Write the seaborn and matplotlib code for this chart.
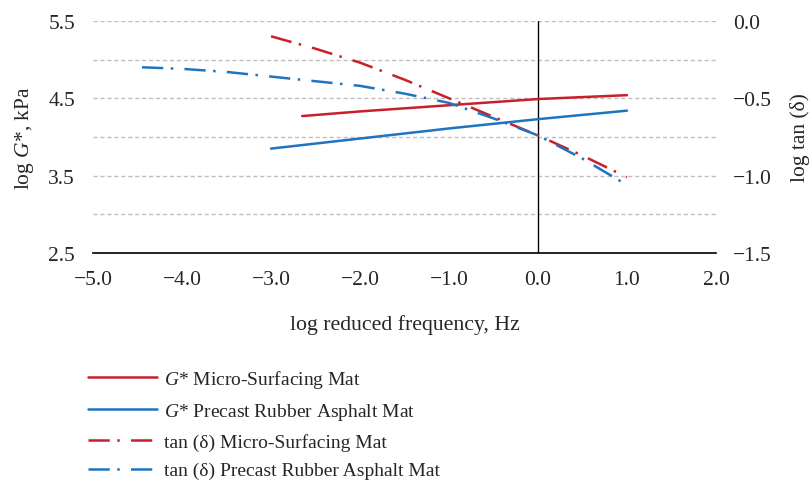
import matplotlib
matplotlib.use("Agg")
import matplotlib.pyplot as plt
import seaborn as sns
import pandas as pd

# data
g_micro_x = [-2.65, -2.0, -1.0, 0.0, 1.0]
g_micro_y = [4.27, 4.33, 4.41, 4.49, 4.54]
g_prec_x = [-3.0, -2.0, -1.0, 0.0, 1.0]
g_prec_y = [3.85, 3.98, 4.11, 4.23, 4.34]
t_micro_x = [-3.0, -2.5, -2.0, -1.5, -1.0, -0.5, 0.0, 0.5, 1.0]
t_micro_y = [-0.10, -0.18, -0.27, -0.38, -0.50, -0.62, -0.74, -0.87, -1.01]
t_prec_x = [-4.45, -4.0, -3.5, -3.0, -2.5, -2.0, -1.5, -1.0, -0.5, 0.0, 0.5, 1.0]
t_prec_y = [-0.30, -0.31, -0.33, -0.36, -0.39, -0.42, -0.47, -0.53, -0.63, -0.74, -0.89, -1.06]
x_ticks = [-5.0, -4.0, -3.0, -2.0, -1.0, 0.0, 1.0, 2.0]
yl_ticks = [2.5, 3.5, 4.5, 5.5]
yr_ticks = [-1.5, -1.0, -0.5, 0.0]
labels = ["$G$* Micro-Surfacing Mat", "$G$* Precast Rubber Asphalt Mat",
          "tan (δ) Micro-Surfacing Mat", "tan (δ) Precast Rubber Asphalt Mat"]

sns.set_theme(style="white")
plt.rcParams["font.family"] = ["Liberation Serif", "DejaVu Serif"]
plt.rcParams["mathtext.fontset"] = "custom"
plt.rcParams["mathtext.it"] = "Liberation Serif:italic"
plt.rcParams["mathtext.rm"] = "Liberation Serif"

RED = "#C8202B"
BLUE = "#1F74BF"
FS = 15.5

fig = plt.figure(figsize=(8.09, 4.85), dpi=100)
ax = fig.add_axes([0.115, 0.476, 0.77, 0.479])
ax2 = ax.twinx()

dd = (0, (8.5, 3, 1, 4.5))
sns.lineplot(x=g_micro_x, y=g_micro_y, ax=ax, color=RED, lw=1.8, label=labels[0], legend=False)
sns.lineplot(x=g_prec_x, y=g_prec_y, ax=ax, color=BLUE, lw=1.8, label=labels[1], legend=False)
sns.lineplot(x=t_micro_x, y=t_micro_y, ax=ax2, color=RED, lw=1.8, label=labels[2], legend=False)
sns.lineplot(x=t_prec_x, y=t_prec_y, ax=ax2, color=BLUE, lw=1.8, label=labels[3], legend=False)
for l in ax2.get_lines():
    l.set_linestyle(dd)

ax.set_xlim(-5.0, 2.0)
ax.set_ylim(2.5, 5.5)
ax2.set_ylim(-1.5, 0.0)
ax.set_xticks(x_ticks)
ax.set_xticklabels([f"{v:.1f}".replace("-", "\u2212") for v in x_ticks], fontsize=FS)
ax.set_yticks(yl_ticks)
ax.set_yticklabels([f"{v:.1f}" for v in yl_ticks], fontsize=FS)
ax2.set_yticks(yr_ticks)
ax2.set_yticklabels([f"{v:.1f}".replace("-", "\u2212") for v in yr_ticks], fontsize=FS)

for yv in [3.0, 3.5, 4.0, 4.5, 5.0, 5.5]:
    ax.axhline(yv, color="#BFBFBF", lw=1.0, ls=(0, (3, 2)), zorder=0)
ax.axvline(0.0, color="black", lw=1.0, zorder=1)

for a in (ax, ax2):
    for s in ["left", "right", "top"]:
        a.spines[s].set_visible(False)
    a.spines["bottom"].set_color("black")
    a.spines["bottom"].set_linewidth(1.2)
    a.tick_params(length=0)
ax2.spines["bottom"].set_visible(False)
ax.tick_params(axis="y", pad=13)
ax.tick_params(axis="x", pad=12)
ax2.tick_params(axis="y", pad=12)

ax.set_ylabel("log $G$*, kPa", fontsize=FS, labelpad=9)
ax2.set_ylabel("log tan (δ)", fontsize=FS, labelpad=13)
ax.set_xlabel("log reduced frequency, Hz", fontsize=15.7, labelpad=18)

handles = ax.get_lines()[:2] + ax2.get_lines()[:2]
fig.legend(handles, labels, loc="upper left", bbox_to_anchor=(0.099, 0.256),
           frameon=False, fontsize=14, handlelength=3.55, labelspacing=0.57,
           borderaxespad=0, handletextpad=0.35)

fig.savefig("out.png", dpi=100)
